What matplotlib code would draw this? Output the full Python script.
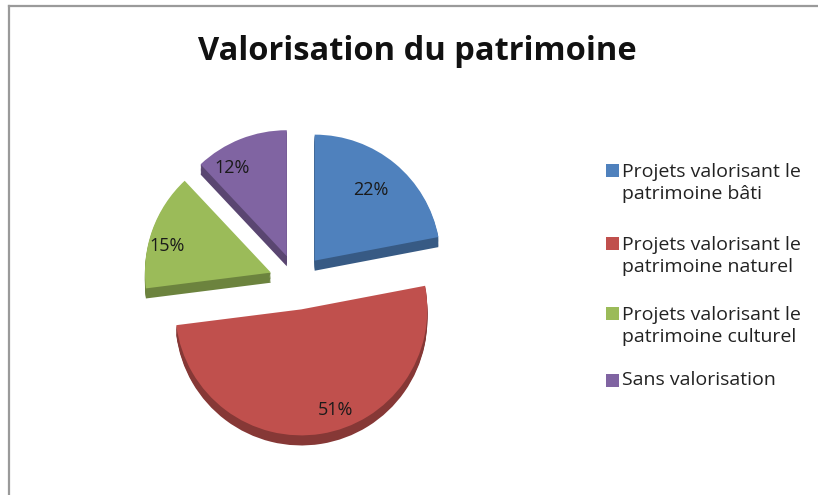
import matplotlib
matplotlib.use("Agg")
from matplotlib import pyplot as plt
from matplotlib.lines import Line2D
from matplotlib.patches import Rectangle
import matplotlib.colors as mcolors

title = "Valorisation du patrimoine"
labels = ["Projets valorisant le\npatrimoine bâti",
          "Projets valorisant le\npatrimoine naturel",
          "Projets valorisant le\npatrimoine culturel",
          "Sans valorisation"]
shares = [22, 51, 15, 12]
colors = ["#4f81bd", "#c0504d", "#9bbb59", "#8064a2"]
# small nudges of the percentage labels (data units), Excel puts them a bit off-centre
label_nudge = [(-0.03, -0.02), (0.15, -0.06), (-0.12, -0.04), (-0.16, 0.0)]

W, H = 818, 495
fig = plt.figure(figsize=(W / 100, H / 100), dpi=100)
fig.patch.set_facecolor("white")

# chart frame (gray border on the left and top, like the clipped Excel chart area)
fig.add_artist(Line2D([9 / W, 9 / W], [0, 1 - 6 / H], color="#9a9a9a", lw=1.6))
fig.add_artist(Line2D([9 / W, 1], [1 - 6 / H, 1 - 6 / H], color="#9a9a9a", lw=1.6))

fig.text(417 / W, 1 - 52 / H, title, ha="center", va="center",
         fontsize=23.5, family="Open Sans", fontweight="bold", color="#111111")

# pie: 1 data unit = R px
R = 126
cx, cy = 297, 282
half = 1.5 * R
ax = fig.add_axes([(cx - half) / W, (H - cy - half) / H, 2 * half / W, 2 * half / H])

explode = [0.22] * len(shares)
dark = [tuple(c * 0.7 for c in mcolors.to_rgb(col)) for col in colors]

# side of the 3D pie: stacked darker copies shifted down
depth = 0.08
steps = 8
for i in range(steps, 0, -1):
    ax.pie(shares, colors=dark, startangle=90, counterclock=False,
           explode=explode, radius=1.0, center=(0, -depth * i / steps),
           wedgeprops=dict(linewidth=0), frame=True)

wedges, texts, autotexts = ax.pie(
    shares, colors=colors, startangle=90, counterclock=False,
    explode=explode, radius=1.0, center=(0, 0),
    autopct="%d%%", pctdistance=0.75,
    wedgeprops=dict(linewidth=0), frame=True,
    textprops=dict(fontsize=13, family="Open Sans", color="#1a1a1a"))
for t, (dx, dy) in zip(autotexts, label_nudge):
    x, y = t.get_position()
    t.set_position((x + dx, y + dy))
ax.set_xlim(-1.5, 1.5)
ax.set_ylim(-1.5, 1.5)
ax.axis("off")

# legend
leg_x = 612
leg_rows = [183, 256, 326, 380]
for lab, col, y in zip(labels, colors, leg_rows):
    lines = lab.split("\n")
    y0 = y - (len(lines) - 1) * 12.5
    fig.add_artist(Rectangle(((leg_x - 6.5) / W, 1 - (y0 + 6.5) / H), 13 / W, 13 / H,
                             facecolor=col, edgecolor="none"))
    fig.text((leg_x + 10) / W, 1 - y / H, lab, ha="left", va="center",
             fontsize=14, family="Open Sans", color="#222222", linespacing=1.25)

fig.savefig("out.png", dpi=100, facecolor="white")
